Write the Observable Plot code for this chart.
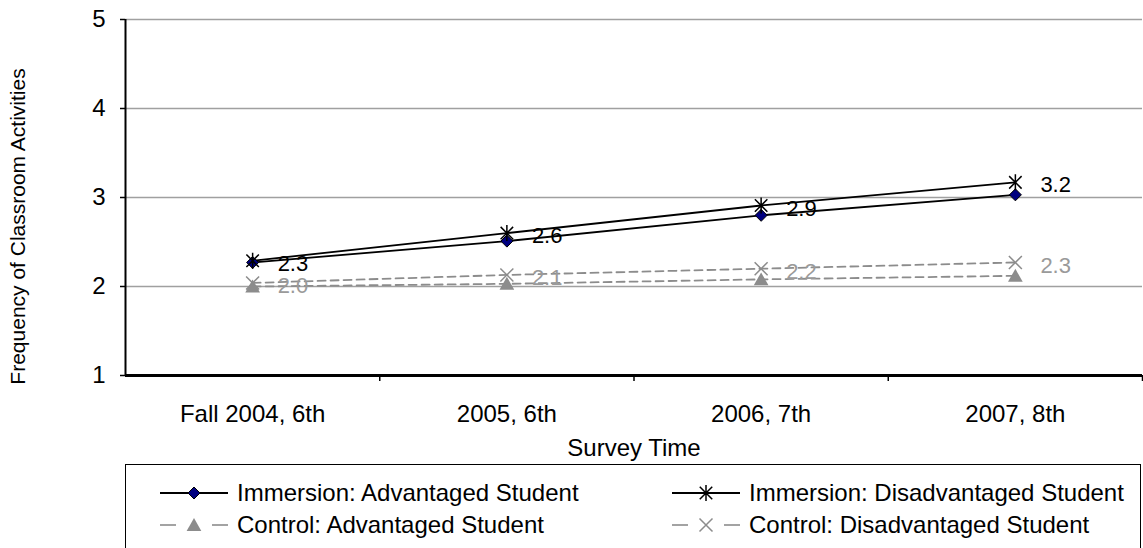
<!DOCTYPE html>
<html><head><meta charset="utf-8">
<script src="https://cdn.jsdelivr.net/npm/d3@7"></script>
<script src="https://cdn.jsdelivr.net/npm/@observablehq/plot@0.6"></script>
<style>
body{margin:0;background:#fff;font-family:"Liberation Sans",Arial,sans-serif;}
#wrap{position:relative;width:1143px;height:548px;overflow:hidden;background:#fff;}
#legend{position:absolute;left:125px;top:464px;width:1016px;height:110px;border:1px solid #000;box-sizing:border-box;background:#fff;}
#legend svg{position:absolute;left:-1px;top:-1px;}
</style></head><body><div id="wrap"><div id="chart"></div><div id="legend"></div></div>
<script>
const times = ["Fall 2004, 6th", "2005, 6th", "2006, 7th", "2007, 8th"];
const immersionAdvantaged = [2.27, 2.51, 2.80, 3.03];
const immersionDisadvantaged = [2.29, 2.60, 2.91, 3.17];
const controlAdvantaged = [2.00, 2.03, 2.08, 2.12];
const controlDisadvantaged = [2.04, 2.13, 2.20, 2.27];
const yTicks = [1, 2, 3, 4, 5];
const seriesNames = ["Immersion: Advantaged Student", "Immersion: Disadvantaged Student", "Control: Advantaged Student", "Control: Disadvantaged Student"];
const xTitle = "Survey Time";
const yTitle = "Frequency of Classroom Activities";

const FONT = '"Liberation Sans", Arial, sans-serif';
const FS = 24;

// custom marker shapes
const diamondSym = {draw(c, size){ const s = Math.sqrt(size/Math.PI); c.moveTo(0,-s); c.lineTo(s,0); c.lineTo(0,s); c.lineTo(-s,0); c.closePath(); }};
const triangleSym = {draw(c, size){ const s = Math.sqrt(size/Math.PI); c.moveTo(0,-s); c.lineTo(s*1.05,s*0.85); c.lineTo(-s*1.05,s*0.85); c.closePath(); }};
const starSym = {draw(c, size){ const s = Math.sqrt(size/Math.PI); const d = s*0.78; c.moveTo(0,-s); c.lineTo(0,s); c.moveTo(-d,-d); c.lineTo(d,d); c.moveTo(-d,d); c.lineTo(d,-d); }};
const timesSym = {draw(c, size){ const s = Math.sqrt(size/Math.PI); c.moveTo(-s,-s); c.lineTo(s,s); c.moveTo(-s,s); c.lineTo(s,-s); }};

const series = [
  {name: seriesNames[0], values: immersionAdvantaged, stroke: "#000", dash: null, sym: diamondSym, r: 6, fill: "#000080", mstroke: "#000", mw: 1, label: false},
  {name: seriesNames[1], values: immersionDisadvantaged, stroke: "#000", dash: null, sym: starSym, r: 8, fill: "none", mstroke: "#000", mw: 1.5, label: true, labelColor: "#000"},
  {name: seriesNames[2], values: controlAdvantaged, stroke: "#8c8c8c", dash: "8,5", sym: triangleSym, r: 7, fill: "#8c8c8c", mstroke: "none", mw: 0, label: false},
  {name: seriesNames[3], values: controlDisadvantaged, stroke: "#8c8c8c", dash: "8,5", sym: timesSym, r: 6.5, fill: "none", mstroke: "#8c8c8c", mw: 1.5, label: true, labelColor: "#9a9a9a"}
];

const rows = s => s.values.map((v, i) => ({series: s.name, x: i + 0.5, v}));
const fmt = d3.format(".1f");

const marks = [
  Plot.ruleY([2, 3, 4, 5], {stroke: "#a0a0a0", strokeWidth: 1.5}),
  Plot.axisY({ticks: yTicks, tickSize: 5, tickPadding: 15, tickFormat: d3.format("d"), label: null, fontSize: FS, stroke: "#000", strokeOpacity: 1, strokeWidth: 1.5}),
  Plot.axisX({ticks: [1, 2, 3, 4], tickSize: 6, tickFormat: () => "", label: null, stroke: "#000", strokeOpacity: 1, strokeWidth: 1.5}),
  Plot.axisX({ticks: times.map((t, i) => i + 0.5), tickSize: 0, tickPadding: 29, tickFormat: d => times[Math.floor(d)], label: null, fontSize: FS}),
  Plot.ruleX([0], {stroke: "#000", strokeWidth: 2}),
  Plot.ruleY([1], {stroke: "#000", strokeWidth: 3}),
  Plot.text([xTitle], {frameAnchor: "bottom", dy: 73, fontSize: FS, fill: "#000", lineAnchor: "middle"}),
  Plot.text([yTitle], {frameAnchor: "left", dx: -107, dy: 29, rotate: -90, fontSize: 21, fill: "#000", lineAnchor: "middle", textAnchor: "middle"})
];
for (const s of series) {
  marks.push(Plot.line(rows(s), {x: "x", y: "v", stroke: s.stroke, strokeWidth: 1.8, strokeDasharray: s.dash || undefined}));
}
for (const s of series) {
  marks.push(Plot.dot(rows(s), {x: "x", y: "v", symbol: s.sym, r: s.r, fill: s.fill, stroke: s.mstroke, strokeWidth: s.mw}));
}
for (const s of series) {
  if (s.label) marks.push(Plot.text(rows(s), {x: "x", y: "v", text: d => fmt(d.v), dx: 25, dy: 3, textAnchor: "start", fill: s.labelColor, fontSize: 22}));
}

const plot = Plot.plot({
  width: 1143, height: 460,
  marginLeft: 125, marginRight: 1, marginTop: 19, marginBottom: 85,
  style: {fontFamily: FONT, fontSize: FS + "px", color: "#000", background: "#fff", overflow: "visible"},
  x: {type: "linear", domain: [0, 4], axis: null},
  y: {type: "linear", domain: [1, 5], axis: null},
  marks
});
document.getElementById("chart").appendChild(plot);

// legend
const lg = d3.select("#legend").append("svg").attr("width", 1018).attr("height", 110)
  .style("font-family", FONT).style("font-size", FS + "px");
const pos = [[35, 29], [547, 29], [35, 61], [547, 61]];
series.forEach((s, k) => {
  const [x0, y0] = pos[k];
  const g = lg.append("g").attr("transform", `translate(${x0},${y0})`);
  if (s.dash) {
    g.append("line").attr("x1", 0).attr("x2", 16).attr("stroke", s.stroke).attr("stroke-width", 1.6);
    g.append("line").attr("x1", 52).attr("x2", 68).attr("stroke", s.stroke).attr("stroke-width", 1.6);
  } else {
    g.append("line").attr("x1", 0).attr("x2", 68).attr("stroke", s.stroke).attr("stroke-width", 1.8);
  }
  const p = d3.path(); s.sym.draw(p, Math.PI * s.r * s.r);
  g.append("path").attr("transform", "translate(34,0)").attr("d", p.toString())
    .attr("fill", s.fill).attr("stroke", s.mstroke).attr("stroke-width", s.mw);
  g.append("text").attr("x", 77).attr("y", 0).attr("dy", "0.35em").attr("fill", "#000").text(s.name);
});
</script></body></html>
